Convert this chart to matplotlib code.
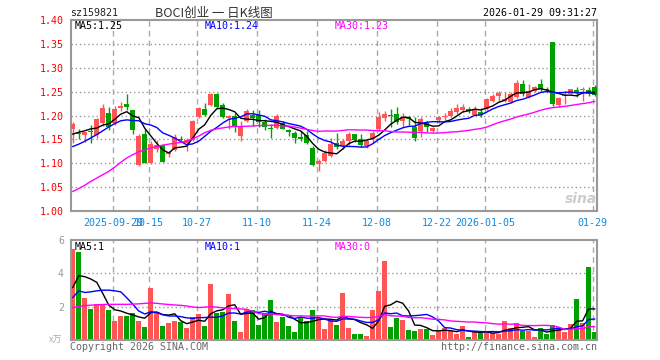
import numpy as np
import matplotlib
matplotlib.use('Agg')
import matplotlib.pyplot as plt

# daily K-line, 88 trading days (2025-09-18 .. 2026-01-29)
opens = [1.171, 1.164, 1.160, 1.168, 1.160, 1.184, 1.205, 1.184, 1.215, 1.224,
         1.211, 1.096, 1.162, 1.100, 1.130, 1.138, 1.119, 1.127, 1.150, 1.143,
         1.148, 1.197, 1.214, 1.222, 1.246, 1.221, 1.194, 1.199, 1.157, 1.189,
         1.201, 1.201, 1.186, 1.173, 1.174, 1.185, 1.169, 1.164, 1.156, 1.160,
         1.131, 1.099, 1.104, 1.116, 1.142, 1.137, 1.146, 1.161, 1.151, 1.137,
         1.151, 1.172, 1.194, 1.202, 1.203, 1.188, 1.197, 1.175, 1.168, 1.185,
         1.168, 1.190, 1.196, 1.199, 1.208, 1.211, 1.214, 1.202, 1.207, 1.214,
         1.231, 1.240, 1.231, 1.229, 1.238, 1.265, 1.238, 1.252, 1.265, 1.256,
         1.353, 1.221, 1.240, 1.244, 1.254, 1.253, 1.254, 1.260]
closes = [1.183, 1.162, 1.165, 1.166, 1.192, 1.215, 1.175, 1.213, 1.219, 1.218,
          1.170, 1.158, 1.101, 1.140, 1.139, 1.103, 1.124, 1.155, 1.148, 1.149,
          1.189, 1.215, 1.202, 1.246, 1.218, 1.197, 1.200, 1.178, 1.178, 1.209,
          1.195, 1.187, 1.176, 1.172, 1.199, 1.172, 1.165, 1.152, 1.150, 1.143,
          1.097, 1.105, 1.122, 1.140, 1.135, 1.147, 1.161, 1.149, 1.139, 1.147,
          1.163, 1.196, 1.203, 1.200, 1.187, 1.196, 1.193, 1.153, 1.192, 1.176,
          1.174, 1.196, 1.198, 1.210, 1.215, 1.218, 1.209, 1.214, 1.202, 1.235,
          1.240, 1.247, 1.235, 1.245, 1.269, 1.244, 1.252, 1.260, 1.256, 1.254,
          1.224, 1.237, 1.242, 1.256, 1.247, 1.254, 1.245, 1.242]
highs = [1.187, 1.171, 1.166, 1.181, 1.195, 1.224, 1.217, 1.219, 1.228, 1.244,
         1.212, 1.161, 1.171, 1.146, 1.148, 1.139, 1.126, 1.162, 1.157, 1.152,
         1.190, 1.217, 1.226, 1.248, 1.247, 1.227, 1.201, 1.206, 1.189, 1.213,
         1.212, 1.211, 1.192, 1.182, 1.204, 1.188, 1.171, 1.168, 1.168, 1.168,
         1.137, 1.108, 1.128, 1.152, 1.164, 1.151, 1.165, 1.162, 1.161, 1.151,
         1.168, 1.207, 1.210, 1.213, 1.218, 1.206, 1.200, 1.196, 1.196, 1.189,
         1.176, 1.200, 1.206, 1.215, 1.224, 1.224, 1.217, 1.219, 1.216, 1.236,
         1.244, 1.252, 1.249, 1.249, 1.274, 1.275, 1.266, 1.261, 1.276, 1.259,
         1.353, 1.238, 1.251, 1.256, 1.260, 1.260, 1.259, 1.263]
lows = [1.143, 1.151, 1.144, 1.142, 1.152, 1.177, 1.169, 1.180, 1.210, 1.211,
        1.162, 1.094, 1.100, 1.099, 1.123, 1.102, 1.114, 1.125, 1.144, 1.125,
        1.146, 1.194, 1.199, 1.220, 1.215, 1.194, 1.172, 1.165, 1.146, 1.186,
        1.177, 1.175, 1.169, 1.152, 1.172, 1.171, 1.157, 1.142, 1.147, 1.141,
        1.095, 1.084, 1.102, 1.114, 1.130, 1.130, 1.139, 1.144, 1.133, 1.132,
        1.142, 1.168, 1.188, 1.176, 1.183, 1.175, 1.181, 1.146, 1.154, 1.166,
        1.165, 1.185, 1.190, 1.196, 1.203, 1.208, 1.205, 1.201, 1.197, 1.212,
        1.229, 1.231, 1.229, 1.227, 1.236, 1.240, 1.236, 1.250, 1.252, 1.250,
        1.219, 1.218, 1.224, 1.244, 1.238, 1.230, 1.240, 1.240]
volumes = [5.47, 5.29, 2.55, 1.84, 2.14, 2.14, 1.78, 1.17, 1.47, 1.47,
           1.64, 1.17, 0.79, 3.15, 1.64, 0.87, 1.03, 1.17, 1.09, 0.73,
           1.39, 1.54, 0.87, 3.35, 1.60, 1.70, 2.75, 1.17, 0.48, 1.88,
           1.78, 0.93, 1.64, 2.42, 1.09, 1.39, 0.83, 0.48, 1.39, 1.13,
           1.78, 1.33, 0.69, 1.27, 0.91, 2.85, 0.73, 0.36, 0.36, 0.24,
           1.82, 2.97, 4.73, 0.79, 1.33, 1.21, 0.61, 0.55, 0.67, 0.67,
           0.30, 0.55, 0.73, 0.55, 0.36, 0.85, 0.18, 0.48, 0.42, 0.55,
           0.42, 0.36, 1.15, 0.73, 1.03, 0.55, 0.55, 0.18, 0.73, 0.36,
           0.91, 0.79, 0.48, 0.97, 2.48, 1.03, 4.36, 0.48]

# MA values for the first days (history before the window)
ma5_head = [1.161, 1.165, 1.168, 1.172]
ma10_head = [1.135, 1.140, 1.146, 1.153, 1.160, 1.168, 1.176, 1.183, 1.189]
ma30_head = [1.041, 1.047, 1.054, 1.062, 1.069, 1.076, 1.083, 1.092, 1.102, 1.111,
             1.118, 1.124, 1.128, 1.132, 1.135, 1.138, 1.140, 1.142, 1.144, 1.146,
             1.151, 1.157, 1.164, 1.169, 1.172, 1.174, 1.176, 1.177, 1.177]
vma5_head = [3.15, 3.86, 3.80, 3.66]
vma10_head = [2.55, 2.95, 2.85, 2.89, 2.95, 2.99, 2.99, 2.95, 2.89]
vma30_head = [1.94, 2.02, 2.06, 2.09, 2.11, 2.13, 2.14, 2.14, 2.14, 2.14,
              2.15, 2.17, 2.20, 2.22, 2.20, 2.16, 2.13, 2.10, 2.08, 2.04,
              1.98, 1.95, 1.97, 2.00, 1.97, 1.93, 1.91, 1.88, 1.86]

date_idx = [7, 13, 21, 31, 41, 51, 61, 69, 87]
date_labels = ['2025-09-29', '10-15', '10-27', '11-10', '11-24', '12-08',
               '12-22', '2026-01-05', '01-29']
price_ticks = [1.00, 1.05, 1.10, 1.15, 1.20, 1.25, 1.30, 1.35, 1.40]
vol_ticks = [2, 4, 6]

RED = '#ff5555'
GREEN = '#00a000'
MONO = 'DejaVu Sans Mono'
CJK = ['Noto Sans CJK SC', 'DejaVu Sans']
W, H = 660, 360


def moving_avg(vals, n, head):
    vals = np.asarray(vals)
    out = list(head)
    for i in range(n - 1, len(vals)):
        out.append(vals[i - n + 1:i + 1].mean())
    return np.array(out)


def ftext(x, y, s, **kw):
    # place text in pixel coords of the 660x360 picture
    fig.text(x / W, 1 - y / H, s, va='center', **kw)


o = np.array(opens)
c = np.array(closes)
x = np.arange(len(c))
up = c >= o
colors = np.where(up, RED, GREEN)

fig = plt.figure(figsize=(6.6, 3.6), dpi=100)
ax = fig.add_axes([71 / W, 1 - 211 / H, 526 / W, 191 / H])
axv = fig.add_axes([71 / W, 1 - 340 / H, 526 / W, 100 / H])

# candles
ax.vlines(x, lows, highs, colors=colors, lw=1, zorder=2)
body_lo = np.minimum(o, c)
body_h = np.maximum(np.abs(c - o), 0.0015)
ax.bar(x, body_h, bottom=body_lo, width=0.82, color=colors, lw=0, zorder=3)

ax.plot(x, moving_avg(c, 5, ma5_head), color='black', lw=1, zorder=4)
ax.plot(x, moving_avg(c, 10, ma10_head), color='#0000ff', lw=1, zorder=4)
ax.plot(x, moving_avg(c, 30, ma30_head), color='#ff00ff', lw=1, zorder=4)

# volume
axv.bar(x, volumes, width=0.82, color=colors, lw=0, zorder=2)
axv.plot(x, moving_avg(volumes, 5, vma5_head), color='black', lw=1, zorder=3)
axv.plot(x, moving_avg(volumes, 10, vma10_head), color='#0000ff', lw=1, zorder=3)
axv.plot(x, moving_avg(volumes, 30, vma30_head), color='#ff00ff', lw=1, zorder=3)

tick_x = [i - 0.3 for i in date_idx]
for a in (ax, axv):
    a.set_xlim(-0.3, 87.4)
    for tx in tick_x:
        a.axvline(tx, color='#aaaaaa', lw=1, ls=(0, (4, 3)), zorder=1)
    for s in a.spines.values():
        s.set_color('#999999')
        s.set_linewidth(1.5)
    a.tick_params(length=0)

ax.set_ylim(1.00, 1.40)
for p in price_ticks[1:-1]:
    ax.axhline(p, color='#999999', lw=1, ls=(0, (1, 2)), zorder=1)
ax.set_yticks(price_ticks)
ax.set_yticklabels(['%.2f' % p for p in price_ticks], color='red',
                   family=MONO, fontsize=7.2)
ax.tick_params(axis='y', pad=5)
ax.set_xticks(tick_x)
ax.set_xticklabels(date_labels, color='#1188dd', family=MONO, fontsize=7.2)
ax.tick_params(axis='x', pad=5)

axv.set_ylim(0, 6)
for v in vol_ticks[:-1]:
    axv.axhline(v, color='#999999', lw=1, ls=(0, (1, 2)), zorder=1)
axv.set_yticks(vol_ticks)
axv.set_yticklabels([str(v) for v in vol_ticks], color='#999999',
                    family=MONO, fontsize=7.2)
axv.tick_params(axis='y', pad=5)
axv.set_xticks([])

# header and labels
ftext(70, 13, 'sz159821', ha='left', family=MONO, fontsize=7.2, color='#222222')
ftext(214, 13, 'BOCI创业 一 日K线图', ha='center', family=CJK, fontsize=9,
      color='#333333')
ftext(597, 13, '2026-01-29 09:31:27', ha='right', family=MONO, fontsize=7.2,
      color='black')
ftext(75, 26, 'MA5:1.25', ha='left', family=MONO, fontsize=7.2, color='black')
ftext(205, 26, 'MA10:1.24', ha='left', family=MONO, fontsize=7.2, color='#0000ff')
ftext(335, 26, 'MA30:1.23', ha='left', family=MONO, fontsize=7.2, color='#ff00ff')
ftext(75, 246.5, 'MA5:1', ha='left', family=MONO, fontsize=7.2, color='black')
ftext(205, 246.5, 'MA10:1', ha='left', family=MONO, fontsize=7.2, color='#0000ff')
ftext(335, 246.5, 'MA30:0', ha='left', family=MONO, fontsize=7.2, color='#ff00ff')
ftext(56, 340, 'x万', ha='center', family=CJK, fontsize=6.5, color='#aaaaaa')
ftext(70, 346.5, 'Copyright 2026 SINA.COM', ha='left', family=MONO,
      fontsize=7.2, color='#666666')
ftext(597, 346.5, 'http://finance.sina.com.cn', ha='right', family=MONO,
      fontsize=7.2, color='#666666')
ftext(581, 199, 'sina', ha='center', fontsize=10, color='#cccccc',
      style='italic', weight='bold')

fig.savefig('out.png', dpi=100)
